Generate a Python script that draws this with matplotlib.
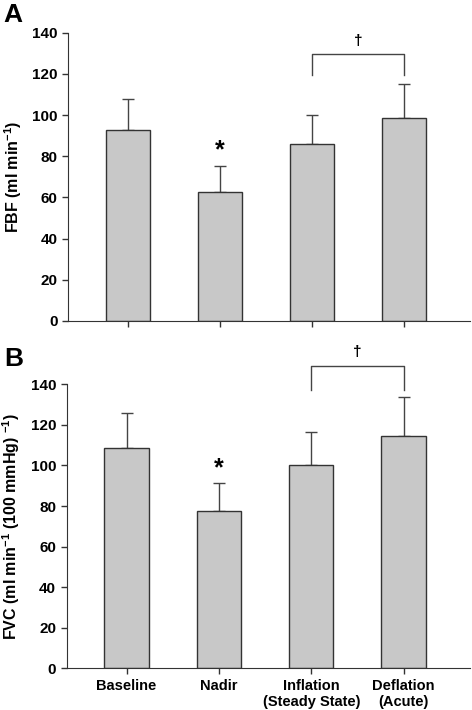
import numpy as np
import matplotlib
matplotlib.use('Agg')
import matplotlib.pyplot as plt

plt.rcParams['font.family'] = ['Liberation Sans', 'DejaVu Sans']
plt.rcParams['font.weight'] = 'bold'
plt.rcParams['mathtext.fontset'] = 'custom'
plt.rcParams['mathtext.rm'] = 'Liberation Sans:bold'
plt.rcParams['mathtext.bf'] = 'Liberation Sans:bold'
plt.rcParams['mathtext.default'] = 'bf'

categories = ['Baseline', 'Nadir', 'Inflation\n(Steady State)', 'Deflation\n(Acute)']
fbf_mean = [92.5, 62.8, 85.9, 98.7]
fbf_sem = [15.5, 12.5, 14.0, 16.3]
fvc_mean = [108.4, 77.7, 100.2, 114.6]
fvc_sem = [17.6, 13.8, 16.1, 19.0]

# annotations: (bar index, y) for asterisk; bracket (y top, y ends, dagger y)
fbf_star = (1, 83)
fbf_bracket = (129.6, 119.6, 136)
fvc_star = (1, 98.5)
fvc_bracket = (148.8, 137.2, 156)

fig = plt.figure(figsize=(4.72, 7.1), dpi=100)
ax1 = fig.add_axes([0.144, 0.548, 0.852, 0.406])
ax2 = fig.add_axes([0.141, 0.0587, 0.855, 0.4])


def draw_panel(ax, means, sems, star, bracket, ylabel, letter, letter_xy, show_labels):
    x = np.arange(len(means))
    ax.bar(x, means, width=0.48, color='#c8c8c8', edgecolor='#333333', linewidth=1.0, zorder=2)
    ax.errorbar(x, means, yerr=[np.zeros(len(sems)), sems], fmt='none',
                ecolor='#444444', elinewidth=1.0, capsize=4, capthick=1.0, zorder=1)
    ax.set_xlim(-0.65, 3.72)
    ax.set_ylim(0, 140)
    ax.set_yticks(np.arange(0, 141, 20))
    ax.set_xticks(x)
    if show_labels:
        ax.set_xticklabels(categories, fontsize=10.5, fontweight='bold')
    else:
        ax.set_xticklabels([])
    for lab in ax.get_yticklabels():
        lab.set_fontweight('bold')
        lab.set_fontsize(11)
    ax.tick_params(axis='both', direction='out', length=4, width=1, color='#333333')
    ax.spines['top'].set_visible(False)
    ax.spines['right'].set_visible(False)
    ax.spines['left'].set_color('#333333')
    ax.spines['bottom'].set_color('#333333')
    ax.set_ylabel(ylabel, fontsize=11.5, fontweight='bold', labelpad=6)
    # significance marks
    ax.text(star[0], star[1], '*', ha='center', va='center', fontsize=18, fontweight='bold')
    ytop, yend, ydag = bracket
    ax.plot([2, 2, 3, 3], [yend, ytop, ytop, yend], color='#444444', lw=1.0, clip_on=False)
    ax.text(2.5, ydag, '\u2020', ha='center', va='center', fontsize=11, clip_on=False)
    fig.text(letter_xy[0], letter_xy[1], letter, fontsize=19, fontweight='bold', ha='left', va='center')


draw_panel(ax1, fbf_mean, fbf_sem, fbf_star, fbf_bracket,
           'FBF (ml min$^{-1}$)', 'A', (0.008, 0.979), False)
draw_panel(ax2, fvc_mean, fvc_sem, fvc_star, fvc_bracket,
           'FVC (ml min$^{-1}$ (100 mmHg) $^{-1}$)', 'B', (0.008, 0.495), True)

fig.savefig('out.png', dpi=100)
